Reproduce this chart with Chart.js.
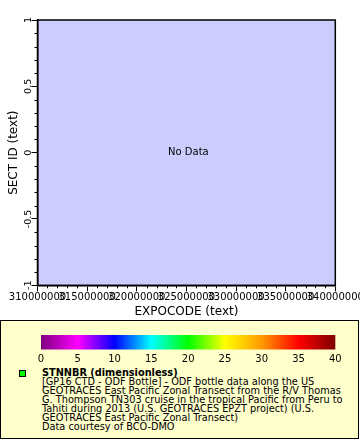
<!DOCTYPE html>
<html><head><meta charset="utf-8">
<script src="https://cdn.jsdelivr.net/npm/chart.js@4/dist/chart.umd.min.js"></script>
<style>
html,body{margin:0;padding:0;background:#fff;width:360px;height:440px;overflow:hidden;font-family:"DejaVu Sans",sans-serif;}
#main{position:absolute;left:0;top:0;}
#legendBox{position:absolute;left:0;top:320px;width:359px;height:119px;box-sizing:border-box;border:1px solid #000;background:#FFFFCC;}
#cbar{position:absolute;left:0;top:330px;}
#swatch{position:absolute;left:19px;top:370px;width:7px;height:7px;box-sizing:border-box;border:1px solid #000;background:#00FF00;}
#ltext{position:absolute;left:42px;top:368px;font-size:9.75px;line-height:9px;color:#000;white-space:nowrap;}
#ltext b{font-weight:bold;}
</style></head><body>
<canvas id="main" width="360" height="320"></canvas>
<div id="legendBox"></div>
<canvas id="cbar" width="360" height="36"></canvas>
<div id="swatch"></div>
<div id="ltext"></div>
<script>
// ---- data ----
const xAxisTitle = 'EXPOCODE (text)';
const yAxisTitle = 'SECT ID (text)';
const xMin = 310000000, xMax = 340000000, xStep = 5000000, xMinorStep = 1000000;
const yMin = -1, yMax = 1, yStep = 0.5, yMinorStep = 0.1;
const seriesName = 'STNNBR';
const seriesPoints = []; // no data in this chart
const noDataText = 'No Data';
const colorbarValues = [0, 5, 10, 15, 20, 25, 30, 35, 40];
const colorbarColors = ['#7F007F', '#FF00FF', '#0000FF', '#00FFFF', '#00FF00', '#FFFF00', '#FF9900', '#FF0000', '#7F0000'];
const legendTitle = 'STNNBR (dimensionless)';
const legendLines = [
  '[GP16 CTD - ODF Bottle] - ODF bottle data along the US',
  'GEOTRACES East Pacific Zonal Transect from the R/V Thomas',
  'G. Thompson TN303 cruise in the tropical Pacific from Peru to',
  'Tahiti during 2013 (U.S. GEOTRACES EPZT project) (U.S.',
  'GEOTRACES East Pacific Zonal Transect)',
  'Data courtesy of BCO-DMO'
];

// ---- legend text ----
const lt = document.getElementById('ltext');
const tb = document.createElement('b'); tb.textContent = legendTitle; lt.appendChild(tb);
legendLines.forEach(l => { lt.appendChild(document.createElement('br')); lt.appendChild(document.createTextNode(l)); });

const FONT = 'DejaVu Sans';

const framePlugin = {
  id: 'frame',
  beforeDraw(chart) {
    const {ctx, chartArea: a} = chart;
    ctx.save();
    ctx.fillStyle = '#CCCCFF';
    ctx.fillRect(a.left, a.top, a.width, a.height);
    ctx.restore();
  },
  afterDraw(chart) {
    const {ctx, chartArea: a, scales: {x, y}} = chart;
    ctx.save();
    ctx.strokeStyle = '#000';
    ctx.lineWidth = 1;
    ctx.beginPath();
    const nx = Math.round((xMax - xMin) / xMinorStep);
    const perX = Math.round(xStep / xMinorStep);
    for (let i = 0; i <= nx; i++) {
      if (i % perX === 0) continue;
      const px = Math.round(x.getPixelForValue(xMin + i * xMinorStep)) + 0.5;
      ctx.moveTo(px, a.bottom); ctx.lineTo(px, a.bottom + 3);
    }
    const ny = Math.round((yMax - yMin) / yMinorStep);
    const perY = Math.round(yStep / yMinorStep);
    for (let i = 0; i <= ny; i++) {
      if (i % perY === 0) continue;
      const py = Math.round(y.getPixelForValue(yMin + i * yMinorStep)) + 0.5;
      ctx.moveTo(a.left, py); ctx.lineTo(a.left - 3, py);
    }
    ctx.stroke();
    ctx.lineWidth = 1.5;
    ctx.strokeRect(a.left, a.top, a.width, a.height);
    if (!seriesPoints.length) {
      ctx.font = '10px "' + FONT + '"';
      ctx.fillStyle = '#000';
      ctx.textAlign = 'center';
      ctx.textBaseline = 'middle';
      ctx.fillText(noDataText, x.getPixelForValue((xMin + xMax) / 2) + 2, y.getPixelForValue(0));
    }
    ctx.restore();
  }
};

new Chart(document.getElementById('main'), {
  type: 'scatter',
  data: { datasets: [{ label: seriesName, data: seriesPoints, backgroundColor: '#00FF00' }] },
  options: {
    responsive: false,
    animation: false,
    layout: { padding: { left: 0, top: 20, right: 24.7, bottom: 0 } },
    plugins: { legend: { display: false }, tooltip: { enabled: false } },
    scales: {
      x: {
        type: 'linear', min: xMin, max: xMax, position: 'bottom',
        ticks: { stepSize: xStep, autoSkip: false, maxRotation: 0, minRotation: 0, padding: 0,
                 font: { family: FONT, size: 10 }, color: '#000', callback: v => String(v) },
        grid: { drawOnChartArea: false, drawTicks: true, tickLength: 6, color: '#000', lineWidth: 1 },
        border: { display: true, color: '#000', width: 1.5 },
        title: { display: true, text: xAxisTitle, color: '#000', font: { family: FONT, size: 12 }, padding: { top: 0, bottom: 1 } },
        afterFit(s) { s.height = 34.7; s.paddingLeft = 0; s.paddingRight = 0; }
      },
      y: {
        type: 'linear', min: yMin, max: yMax, position: 'left',
        ticks: { stepSize: yStep, minRotation: 90, maxRotation: 90, crossAlign: 'center', padding: -6,
                 font: { family: FONT, size: 9.5 }, color: '#000', callback: v => String(v) },
        grid: { drawOnChartArea: false, drawTicks: true, tickLength: 6, color: '#000', lineWidth: 1 },
        border: { display: true, color: '#000', width: 1.5 },
        title: { display: true, text: yAxisTitle, color: '#000', font: { family: FONT, size: 12 }, padding: { top: 7, bottom: 0 } },
        afterFit(s) { s.width = 37.5; s.paddingTop = 0; s.paddingBottom = 0; }
      }
    }
  },
  plugins: [framePlugin]
});

const gradientPlugin = {
  id: 'gradientBar',
  beforeDraw(chart) {
    const {ctx, chartArea: a, scales: {x}} = chart;
    const g = ctx.createLinearGradient(a.left, 0, a.right, 0);
    colorbarValues.forEach((v, i) => {
      const t = (x.getPixelForValue(v) - a.left) / a.width;
      g.addColorStop(Math.min(1, Math.max(0, t)), colorbarColors[i]);
    });
    ctx.save();
    ctx.fillStyle = g;
    ctx.fillRect(a.left, a.top, a.width, a.height);
    ctx.restore();
  }
};

new Chart(document.getElementById('cbar'), {
  type: 'scatter',
  data: { datasets: [{ data: [] }] },
  options: {
    responsive: false,
    animation: false,
    layout: { padding: { left: 41, top: 5, right: 24.7, bottom: 0 } },
    plugins: { legend: { display: false }, tooltip: { enabled: false } },
    scales: {
      x: {
        type: 'linear', min: colorbarValues[0], max: colorbarValues[colorbarValues.length - 1],
        afterBuildTicks(s) { s.ticks = colorbarValues.map(v => ({ value: v })); },
        ticks: { autoSkip: false, maxRotation: 0, padding: -4, font: { family: FONT, size: 10 }, color: '#000' },
        grid: { display: false },
        border: { display: false },
        afterFit(s) { s.height = 16.5; s.paddingLeft = 0; s.paddingRight = 0; }
      },
      y: { display: false, min: 0, max: 1 }
    }
  },
  plugins: [gradientPlugin]
});
</script>
</body></html>
